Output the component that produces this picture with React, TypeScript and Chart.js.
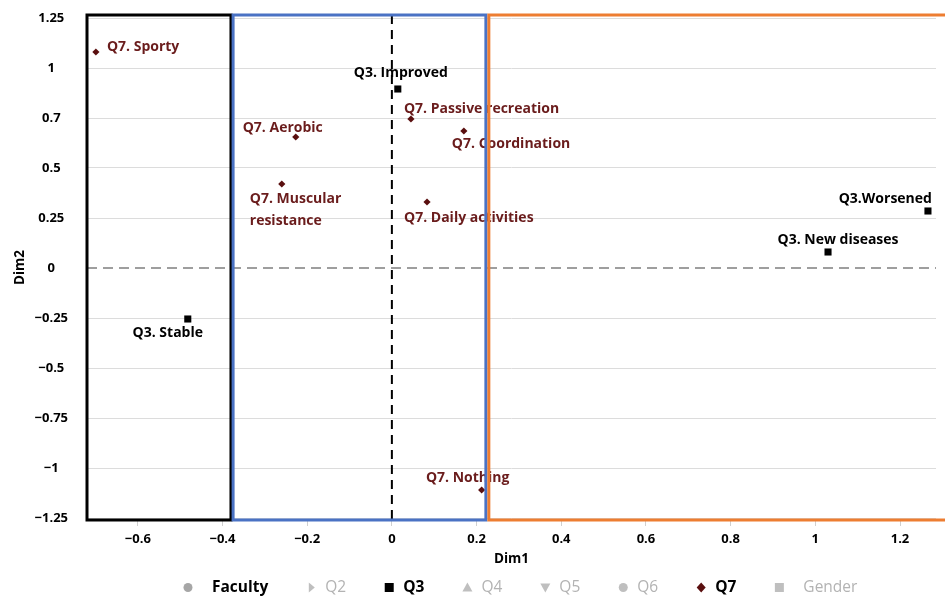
import React, { useEffect, useRef } from "react";
import { Chart, registerables } from "chart.js";

Chart.register(...registerables);

// ---------- data ----------
const q3Names = ["Q3. Improved", "Q3. Stable", "Q3.Worsened", "Q3. New diseases"];
const q3Dim1 = [0.014, -0.482, 1.266, 1.03];
const q3Dim2 = [0.895, -0.255, 0.285, 0.08];

const q7Names = [
  "Q7. Sporty",
  "Q7. Aerobic",
  "Q7. Muscular\nresistance",
  "Q7. Passive recreation",
  "Q7. Coordination",
  "Q7. Daily activities",
  "Q7. Nothing",
];
const q7Dim1 = [-0.699, -0.227, -0.26, 0.045, 0.17, 0.083, 0.212];
const q7Dim2 = [1.08, 0.655, 0.42, 0.745, 0.685, 0.33, -1.11];

const xTickValues = [-0.6, -0.4, -0.2, 0, 0.2, 0.4, 0.6, 0.8, 1, 1.2];
const xTickLabels = ["\u22120.6", "\u22120.4", "\u22120.2", "0", "0.2", "0.4", "0.6", "0.8", "1", "1.2"];
const yTickValues = [-1.25, -1, -0.75, -0.5, -0.25, 0, 0.25, 0.5, 0.75, 1, 1.25];
const yTickLabels = ["\u22121.25", "\u22121", "\u22120.75", "\u22120.5", "\u22120.25", "0", "0.25", "0.5", "0.7", "1", "1.25"];

const legendNames = ["Faculty", "Q2", "Q3", "Q4", "Q5", "Q6", "Q7", "Gender"];
const legendActive = [true, false, true, false, false, false, true, false];

// cluster boxes along Dim1
const clusterStart = [-0.72, -0.375, 0.229];
const clusterEnd = [-0.38, 0.222, 1.32];

// ---------- styles / placement (not data) ----------
const MAROON = "#5a0f0f";
const MAROON_TEXT = "#6a1c1c";
const GRAY_MARK = "#a6a6a6";
const GRAY_TEXT = "#b3b3b3";
const clusterColors = ["#000000", "#4a72c4", "#ed7d31"];
const FONT = "'Open Sans', 'DejaVu Sans', sans-serif";

type Place = { align: CanvasTextAlign; dx: number; dy: number };
const q3Place: Place[] = [
  { align: "center", dx: 3, dy: -16 },
  { align: "center", dx: -20, dy: 14 },
  { align: "right", dx: 4, dy: -12 },
  { align: "center", dx: 10, dy: -12 },
];
const q7Place: Place[] = [
  { align: "left", dx: 11, dy: -5 },
  { align: "center", dx: -13, dy: -9 },
  { align: "left", dx: -32, dy: 15 },
  { align: "left", dx: -7, dy: -10 },
  { align: "left", dx: -12, dy: 13 },
  { align: "left", dx: -23, dy: 16 },
  { align: "center", dx: -14, dy: -12 },
];

const legendStyles = [
  { shape: "circle", color: GRAY_MARK },
  { shape: "triRight", color: "#bfbfbf" },
  { shape: "square", color: "#000000" },
  { shape: "triUp", color: "#bfbfbf" },
  { shape: "triDown", color: "#bfbfbf" },
  { shape: "circle", color: "#bfbfbf" },
  { shape: "diamond", color: MAROON },
  { shape: "square", color: "#bfbfbf" },
];

function drawMarker(ctx: CanvasRenderingContext2D, shape: string, x: number, y: number, color: string) {
  ctx.fillStyle = color;
  ctx.beginPath();
  if (shape === "circle") {
    ctx.arc(x, y, 4.5, 0, Math.PI * 2);
  } else if (shape === "square") {
    ctx.rect(x - 4.5, y - 4.5, 9, 9);
  } else if (shape === "diamond") {
    ctx.moveTo(x, y - 5);
    ctx.lineTo(x + 4.5, y);
    ctx.lineTo(x, y + 5);
    ctx.lineTo(x - 4.5, y);
    ctx.closePath();
  } else if (shape === "triRight") {
    ctx.moveTo(x - 2.5, y - 5);
    ctx.lineTo(x + 3.5, y);
    ctx.lineTo(x - 2.5, y + 5);
    ctx.closePath();
  } else if (shape === "triUp") {
    ctx.moveTo(x, y - 5);
    ctx.lineTo(x + 5, y + 4);
    ctx.lineTo(x - 5, y + 4);
    ctx.closePath();
  } else if (shape === "triDown") {
    ctx.moveTo(x, y + 5);
    ctx.lineTo(x + 5, y - 4);
    ctx.lineTo(x - 5, y - 4);
    ctx.closePath();
  }
  ctx.fill();
}

const overlayPlugin = {
  id: "overlay",
  beforeDatasetsDraw(chart: any) {
    const { ctx, chartArea: ca, scales } = chart;
    const x0 = scales.x.getPixelForValue(0);
    const y0 = scales.y.getPixelForValue(0);
    ctx.save();
    ctx.strokeStyle = "#7f7f7f";
    ctx.lineWidth = 1.5;
    ctx.setLineDash([10, 6]);
    ctx.beginPath();
    ctx.moveTo(ca.left, y0);
    ctx.lineTo(ca.right, y0);
    ctx.stroke();
    ctx.strokeStyle = "#000";
    ctx.lineWidth = 2;
    ctx.setLineDash([9, 6]);
    ctx.beginPath();
    ctx.moveTo(x0, ca.top);
    ctx.lineTo(x0, ca.bottom);
    ctx.stroke();
    ctx.restore();
  },
  afterDatasetsDraw(chart: any) {
    const { ctx, chartArea: ca, scales } = chart;
    ctx.save();
    chart.data.datasets.forEach((ds: any, di: number) => {
      if (!ds.pointNames) return;
      const meta = chart.getDatasetMeta(di);
      meta.data.forEach((el: any, i: number) => {
        const p: Place = ds.placements[i];
        const lines = String(ds.pointNames[i]).split("\n");
        ctx.font = `bold 14px ${FONT}`;
        ctx.fillStyle = ds.labelColor;
        ctx.textAlign = p.align;
        ctx.textBaseline = "middle";
        lines.forEach((ln: string, k: number) => {
          ctx.fillText(ln, el.x + p.dx, el.y + p.dy + k * 22);
        });
      });
    });
    ctx.lineWidth = 3;
    ctx.setLineDash([]);
    clusterStart.forEach((s, i) => {
      const l = scales.x.getPixelForValue(s);
      const r = scales.x.getPixelForValue(clusterEnd[i]);
      ctx.strokeStyle = clusterColors[i];
      ctx.strokeRect(l, ca.top, r - l, ca.bottom - ca.top);
    });
    ctx.restore();
  },
  afterDraw(chart: any) {
    const { ctx } = chart;
    ctx.save();
    const y = chart.height - 8.5;
    let x = chart.chartArea.left + 101;
    chart.data.datasets.forEach((ds: any, i: number) => {
      const st = legendStyles[i];
      drawMarker(ctx, st.shape, x, y, st.color);
      const active = legendActive[i];
      ctx.font = `${active ? 700 : 400} 15.5px ${FONT}`;
      ctx.fillStyle = active ? "#000" : GRAY_TEXT;
      ctx.textAlign = "left";
      ctx.textBaseline = "middle";
      const tx = x + (i === 0 || i === legendNames.length - 1 ? 24 : 14);
      ctx.fillText(ds.label, tx, y);
      x = tx + ctx.measureText(ds.label).width + 43;
    });
    ctx.restore();
  },
};

export default function App() {
  const ref = useRef<HTMLCanvasElement | null>(null);

  useEffect(() => {
    document.body.style.margin = "0";
    if (!ref.current) return;

    const q3Data = q3Dim1.map((x, i) => ({ x, y: q3Dim2[i] }));
    const q7Data = q7Dim1.map((x, i) => ({ x, y: q7Dim2[i] }));

    const datasets: any[] = legendNames.map((name) => {
      const base: any = { label: name, data: [], pointRadius: 0 };
      if (name === "Q3") {
        Object.assign(base, {
          data: q3Data,
          pointStyle: "rect",
          pointRadius: 5,
          backgroundColor: "#000",
          borderColor: "#000",
          borderWidth: 0,
          pointNames: q3Names,
          placements: q3Place,
          labelColor: "#000",
        });
      }
      if (name === "Q7") {
        Object.assign(base, {
          data: q7Data,
          pointStyle: "rectRot",
          pointRadius: 3.6,
          backgroundColor: MAROON,
          borderColor: MAROON,
          borderWidth: 0,
          pointNames: q7Names,
          placements: q7Place,
          labelColor: MAROON_TEXT,
        });
      }
      return base;
    });

    const chart = new Chart(ref.current, {
      type: "scatter",
      data: { datasets },
      plugins: [overlayPlugin],
      options: {
        animation: false,
        responsive: true,
        maintainAspectRatio: false,
        events: [],
        layout: { padding: { top: 15, right: 9, bottom: 25, left: 0 } },
        plugins: {
          legend: { display: false },
          tooltip: { enabled: false },
        },
        scales: {
          x: {
            type: "linear",
            min: -0.72,
            max: 1.285,
            afterBuildTicks: (scale: any) => {
              scale.ticks = xTickValues.map((v) => ({ value: v }));
            },
            afterFit: (scale: any) => {
              scale.height = 51;
            },
            border: { display: false },
            grid: {
              drawOnChartArea: false,
              drawTicks: true,
              tickLength: 6,
              color: "#d0d0d0",
            },
            ticks: {
              padding: 5,
              color: "#000",
              font: { family: FONT, size: 13, weight: "bold" },
              callback: (_v: any, i: number) => xTickLabels[i],
            },
            title: {
              display: true,
              text: "Dim1",
              color: "#000",
              font: { family: FONT, size: 13.5, weight: "bold" },
              padding: { top: 0, bottom: 4 },
            },
          },
          y: {
            type: "linear",
            min: -1.26,
            max: 1.265,
            afterBuildTicks: (scale: any) => {
              scale.ticks = yTickValues.map((v) => ({ value: v }));
            },
            afterFit: (scale: any) => {
              scale.width = 87;
            },
            border: { display: false },
            grid: {
              drawTicks: true,
              tickLength: 17,
              tickColor: "rgba(0,0,0,0)",
              lineWidth: 1,
              color: (c: any) => (c.tick && c.tick.value === 0 ? "rgba(0,0,0,0)" : "#dcdcdc"),
            },
            ticks: {
              padding: 2,
              crossAlign: "center",
              color: "#000",
              font: { family: FONT, size: 13, weight: "bold" },
              callback: (_v: any, i: number) => yTickLabels[i],
            },
            title: {
              display: true,
              text: "Dim2",
              color: "#000",
              font: { family: FONT, size: 13.5, weight: "bold" },
              padding: { top: 12, bottom: 0 },
            },
          },
        },
      } as any,
    });

    return () => chart.destroy();
  }, []);

  return (
    <div style={{ width: 945, height: 596, position: "relative", background: "#fff" }}>
      <canvas ref={ref} />
    </div>
  );
}
